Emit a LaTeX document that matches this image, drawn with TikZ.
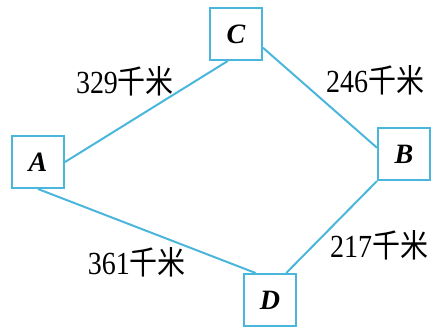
\documentclass[tikz,border=0pt]{standalone}
\usepackage{graphicx}
\usepackage{fontspec}
\setmainfont{Liberation Serif}
\newfontfamily\cjk{Noto Sans CJK SC}
\definecolor{roadblue}{RGB}{75,182,220}
\newcommand{\km}[1]{\scalebox{1}[1.15]{#1{\cjk 千米}}}

\begin{document}
\begin{tikzpicture}[x=1pt,y=-1pt,
  town/.style={draw=roadblue, line width=2pt, fill=white, minimum size=52pt, inner sep=0pt, font=\fontsize{28}{30}\selectfont\bfseries\itshape},
  dist/.style={font=\fontsize{28}{32}\selectfont}]
\useasboundingbox (0,0) rectangle (432,327);

%towns
\node[town] (A) at (38,162) {A};
\node[town] (C) at (236,34) {C};
\node[town] (B) at (404,154) {B};
\node[town] (D) at (270,300) {D};

%roads
\draw[color=roadblue, line width=2pt]
(A.east) -- (C.253)
(C.333) -- (B.167)
(A.south) -- (D.118)
(B.south west) -- (D.59)
;

%distances
\node[dist] (ac) at (125,81) {\km{329}};
\node[dist] (cb) at (375,80) {\km{246}};
\node[dist] (ad) at (137,262) {\km{361}};
\node[dist] (bd) at (379,245) {\km{217}};
\end{tikzpicture}
\end{document}
